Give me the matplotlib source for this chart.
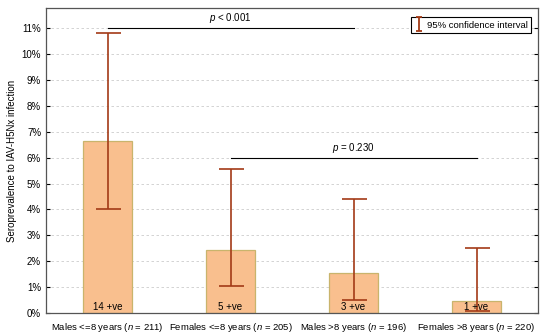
import matplotlib
matplotlib.use("Agg")
import matplotlib.pyplot as plt
from matplotlib.ticker import PercentFormatter, MultipleLocator
from matplotlib.lines import Line2D
from matplotlib.path import Path

plt.rcParams['font.family'] = ['Liberation Sans', 'DejaVu Sans']
plt.rcParams['mathtext.fontset'] = 'custom'
plt.rcParams['mathtext.it'] = 'Liberation Sans:italic'
plt.rcParams['mathtext.rm'] = 'Liberation Sans'

categories = [r"Males <=8 years ($\it{n}$ = 211)", r"Females <=8 years ($\it{n}$ = 205)",
              r"Males >8 years ($\it{n}$ = 196)", r"Females >8 years ($\it{n}$ = 220)"]
prevalence = [6.63, 2.44, 1.53, 0.45]
ci_low = [4.0, 1.04, 0.51, 0.08]
ci_high = [10.8, 5.58, 4.39, 2.51]
positives = ["14 +ve", "5 +ve", "3 +ve", "1 +ve"]
comparisons = [(0, 2, 11.0, r"$\it{p}$ < 0.001"), (1, 3, 6.0, r"$\it{p}$ = 0.230")]

FS = 7

fig = plt.figure(figsize=(5.5, 3.36), dpi=100)
ax = fig.add_axes([46/550, 1-313/336, 492/550, 305/336])

x = list(range(len(categories)))
ax.bar(x, prevalence, width=0.4, color='#F9BF8E', edgecolor='#C9B46C', linewidth=0.9, zorder=2)
yerr = [[p - l for p, l in zip(prevalence, ci_low)], [h - p for p, h in zip(prevalence, ci_high)]]
ax.errorbar(x, prevalence, yerr=yerr, fmt='none', ecolor='#A33A16', elinewidth=1.2,
            capsize=9, capthick=1.2, zorder=3)

for xi, lab in zip(x, positives):
    ax.text(xi, 0.22, lab, ha='center', va='center', fontsize=FS, zorder=4)

for a, b, yv, txt in comparisons:
    ax.plot([a, b], [yv, yv], color='black', linewidth=0.8, zorder=4)
    ax.text((a + b) / 2, yv + 0.12, txt, ha='center', va='bottom', fontsize=FS)

ax.set_xlim(-0.5, 3.5)
ax.set_ylim(0, 11.78)
ax.yaxis.set_major_locator(MultipleLocator(1))
ax.yaxis.set_major_formatter(PercentFormatter(decimals=0))
ax.set_xticks(x)
ax.set_xticklabels(categories, fontsize=6.8)
ax.tick_params(axis='x', length=0, pad=6)
ax.tick_params(axis='y', labelsize=FS, length=3, direction='in', right=True, width=0.8)
ax.grid(axis='y', linestyle=(0, (3, 3)), color='#cccccc', linewidth=0.6, zorder=0)
ax.set_axisbelow(True)
for s in ax.spines.values():
    s.set_color('#555555')
    s.set_linewidth(0.9)
ax.set_ylabel("Seroprevalence to IAV-H5Nx infection", fontsize=FS, labelpad=3)

ipath = Path([(-0.5, -1), (0.5, -1), (0, -1), (0, 1), (-0.5, 1), (0.5, 1)],
             [Path.MOVETO, Path.LINETO, Path.MOVETO, Path.LINETO, Path.MOVETO, Path.LINETO])
handle = Line2D([], [], linestyle='none', marker=ipath, markersize=10,
                markeredgecolor='#A33A16', markerfacecolor='none', markeredgewidth=1.3)
leg = ax.legend([handle], ["95% confidence interval"], loc='upper right', fontsize=6.8,
                frameon=True, fancybox=False, edgecolor='black', framealpha=1,
                handlelength=0.9, handletextpad=0.4, borderpad=0.35,
                bbox_to_anchor=(0.995, 0.985))
leg.get_frame().set_linewidth(0.8)

fig.savefig("out.png", dpi=100)
